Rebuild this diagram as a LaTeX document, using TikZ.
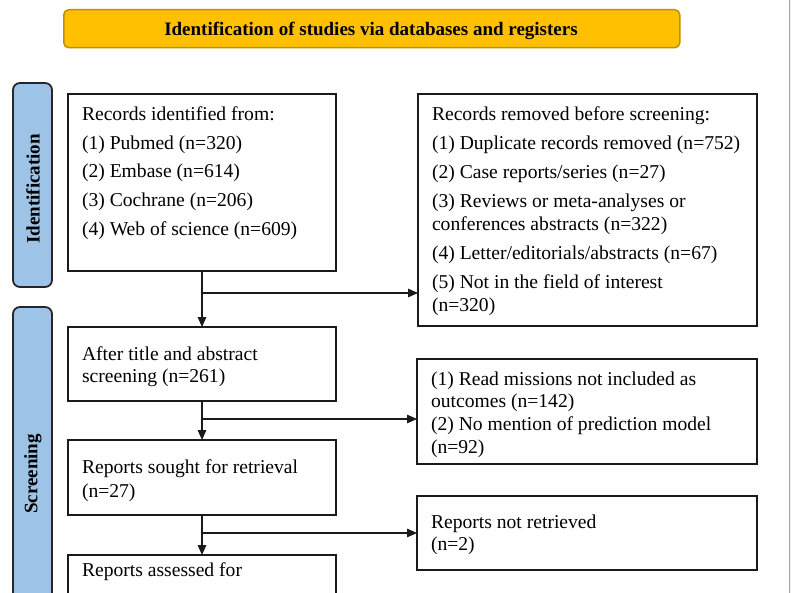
\documentclass[tikz,border=0pt]{standalone}
\usepackage{fontspec}
\setmainfont{Liberation Serif}
\usetikzlibrary{arrows.meta}
\definecolor{titlefill}{HTML}{FFC000}
\definecolor{titledraw}{HTML}{BF9000}
\definecolor{barfill}{HTML}{9DC3E6}
\definecolor{bardraw}{HTML}{262626}
\definecolor{boxdraw}{HTML}{1A1A1A}
\begin{document}
\begin{tikzpicture}[x=1pt,y=-1pt,
  box/.style={draw=boxdraw, line width=1.9pt, fill=white, rectangle, anchor=north west, inner sep=0pt, outer sep=0pt},
  bar/.style={draw=bardraw, line width=1.8pt, fill=barfill, rounded corners=7pt},
  txt/.style={anchor=base west, inner sep=0pt, outer sep=0pt},
  barlabel/.style={rotate=90, inner sep=0pt, font=\fontsize{19}{22}\selectfont\bfseries},
  conn/.style={draw=boxdraw, line width=1.3pt},
  arr/.style={conn, -{Triangle[length=10pt,width=8.5pt]}}
]
\clip (0,0) rectangle (791,593);
\fill[white] (0,0) rectangle (791,593);
% page edge
\fill[gray!12] (789,0) rectangle (791,593);
\draw[gray!70, line width=0.9pt] (789,0) -- (789,593);

% title
\node[draw=titledraw, line width=1.5pt, fill=titlefill, rounded corners=5pt, anchor=north west,
  minimum width=616pt, minimum height=38pt, inner sep=0pt] (title) at (63,9) {};
\node[anchor=base, inner sep=0pt, font=\fontsize{19}{22}\selectfont\bfseries] (titletxt) at (371,36)
  {Identification of studies via databases and registers};

% side bars
\path[bar] (13,83) rectangle (52,287);
\node[barlabel] (lid) at (33,189) {Identification};
\path[bar] (13,307) rectangle (52,720);
\node[barlabel] (lsc) at (33,474) {Screening};

% boxes
\node[box, minimum width=268pt, minimum height=177pt] (b1) at (68,94) {};
\node[box, minimum width=339pt, minimum height=232pt] (b2) at (418,94) {};
\node[box, minimum width=268pt, minimum height=74pt] (b3) at (68,327) {};
\node[box, minimum width=340pt, minimum height=105pt] (b4) at (417,359) {};
\node[box, minimum width=268pt, minimum height=75pt] (b5) at (68,440) {};
\node[box, minimum width=340pt, minimum height=74pt] (b6) at (417,496) {};
\node[box, minimum width=268pt, minimum height=120pt] (b7) at (68,555) {};

% texts
\node[txt] (t1) at (82,120.7) {\parbox[t]{250pt}{\fontsize{19.6}{28.6}\selectfont\raggedright
  Records identified from:\\
  (1) Pubmed (n=320)\\
  (2) Embase (n=614)\\
  (3) Cochrane (n=206)\\
  (4) Web of science (n=609)}};
\node[txt] (t2) at (432,120.5) {\parbox[t]{320pt}{\fontsize{19.6}{23}\selectfont\raggedright
  Records removed before screening:\\[6pt]
  (1) Duplicate records removed (n=752)\\[6pt]
  (2) Case reports/series (n=27)\\[6pt]
  (3) Reviews or meta-analyses or\\
  conferences abstracts (n=322)\\[6pt]
  (4) Letter/editorials/abstracts (n=67)\\[6pt]
  (5) Not in the field of interest\\
  (n=320)}};
\node[txt] (t3) at (82,360) {\parbox[t]{250pt}{\fontsize{19.6}{22.5}\selectfont\raggedright
  After title and abstract\\
  screening (n=261)}};
\node[txt] (t4) at (431,385) {\parbox[t]{320pt}{\fontsize{19.6}{22.7}\selectfont\raggedright
  (1) Read missions not included as\\
  outcomes (n=142)\\
  (2) No mention of prediction model\\
  (n=92)}};
\node[txt] (t5) at (82,473.5) {\parbox[t]{250pt}{\fontsize{19.6}{23.5}\selectfont\raggedright
  Reports sought for retrieval\\
  (n=27)}};
\node[txt] (t6) at (431,528) {\parbox[t]{320pt}{\fontsize{19.6}{22.5}\selectfont\raggedright
  Reports not retrieved\\
  (n=2)}};
\node[txt] (t7) at (82,576) {\parbox[t]{250pt}{\fontsize{19.6}{23}\selectfont\raggedright
  Reports assessed for}};

% connectors
\coordinate (j1) at (202,293);
\coordinate (j2) at (202,419);
\coordinate (j3) at (202,533);
\draw[arr] (b1.south) -- (b3.north);
\draw[arr] (j1) -- (j1 -| b2.west);
\draw[arr] (b3.south) -- (b5.north);
\draw[arr] (j2) -- (j2 -| b4.west);
\draw[arr] (b5.south) -- (b7.north);
\draw[arr] (j3) -- (j3 -| b6.west);
\end{tikzpicture}
\end{document}
